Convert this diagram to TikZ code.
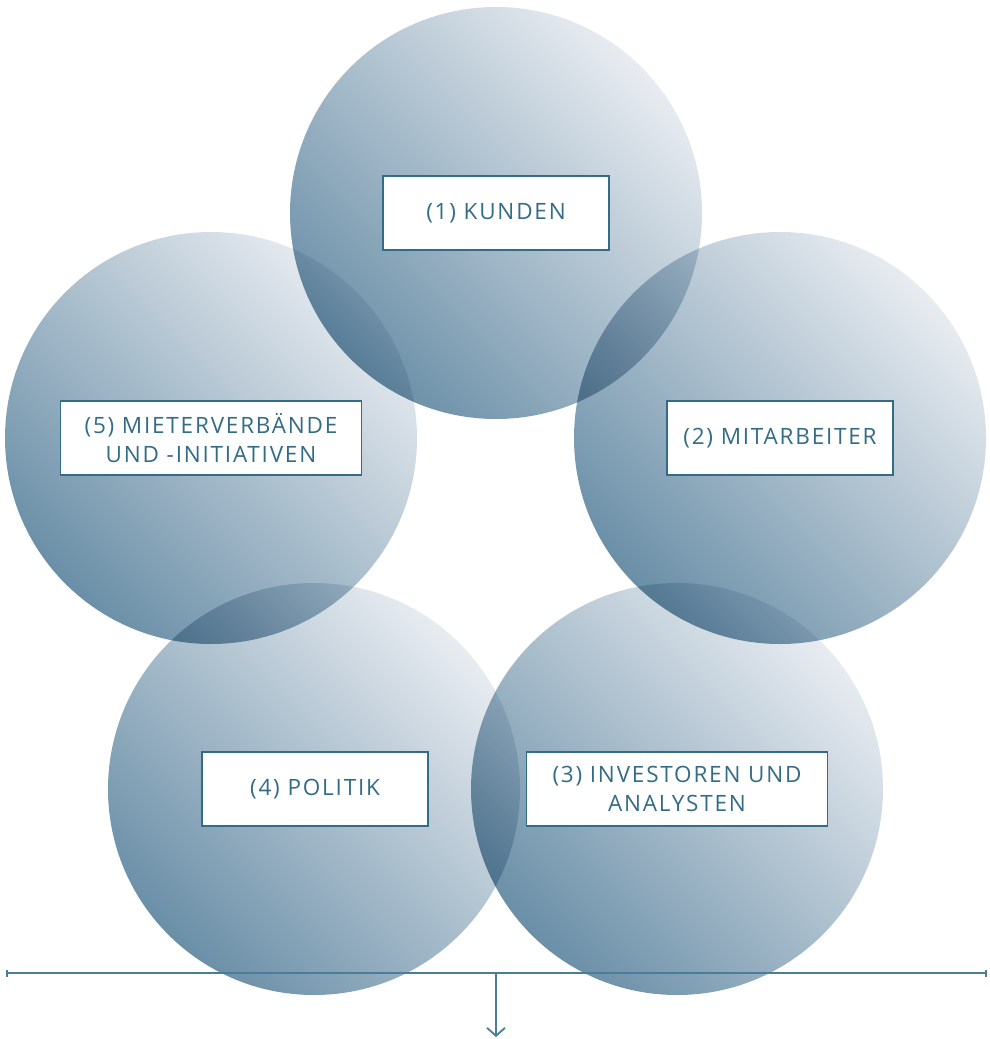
\documentclass[tikz,border=0pt]{standalone}
\usepackage{fontspec}
\setmainfont[LetterSpace=8]{Open Sans}
\usetikzlibrary{arrows.meta}
\definecolor{bubbledark}{HTML}{6A8FA7}
\definecolor{bubblelight}{HTML}{E8ECF1}
\definecolor{tagblue}{HTML}{336C86}
\definecolor{rulecol}{HTML}{4A7D97}
\tikzset{
  bubble/.style={circle, minimum size=412pt, inner sep=0pt,
    top color=bubblelight, bottom color=bubbledark, shading angle=-45,
    blend mode=multiply},
  tag/.style={draw=tagblue, line width=1.3pt, fill=white, text=tagblue,
    minimum height=74pt, align=center, font=\fontsize{22.5}{29}\selectfont},
  rule/.style={draw=rulecol, line width=1.8pt}
}
\begin{document}
\begin{tikzpicture}[x=1pt, y=-1pt]
\useasboundingbox (0,0) rectangle (990,1039);
% the five circles
\begin{scope}[transparency group]
\node[bubble] (kunden)      at (496,213) {};
\node[bubble] (mitarbeiter) at (780,438) {};
\node[bubble] (investoren)  at (677,789) {};
\node[bubble] (politik)     at (314,789) {};
\node[bubble] (verbaende)   at (211,438) {};
\end{scope}

% labels
\node[tag, minimum width=226pt] (kundenTag)      at (496,213) {(1) KUNDEN};
\node[tag, minimum width=226pt] (mitarbeiterTag) at (780,438) {(2) MITARBEITER};
\node[tag, minimum width=301pt] (investorenTag)  at (677,789) {(3) INVESTOREN UND\\ANALYSTEN};
\node[tag, minimum width=226pt] (politikTag)     at (315,789) {(4) POLITIK};
\node[tag, minimum width=301pt] (verbaendeTag)   at (211,438) {(5) MIETERVERBÄNDE\\UND -INITIATIVEN};

% bottom rule with arrow
\coordinate (ruleL) at (6,973);
\coordinate (ruleR) at (987,973);
\coordinate (ruleM) at (496,973);
\coordinate (ruleTip) at (496,1037);
\draw[rule, {Bar[width=7pt]}-{Bar[width=7pt]}] (ruleL) -- (ruleR);
\draw[rule, -{Straight Barb[length=8pt,width=18pt]}] (ruleM) -- (ruleTip);
\end{tikzpicture}
\end{document}
